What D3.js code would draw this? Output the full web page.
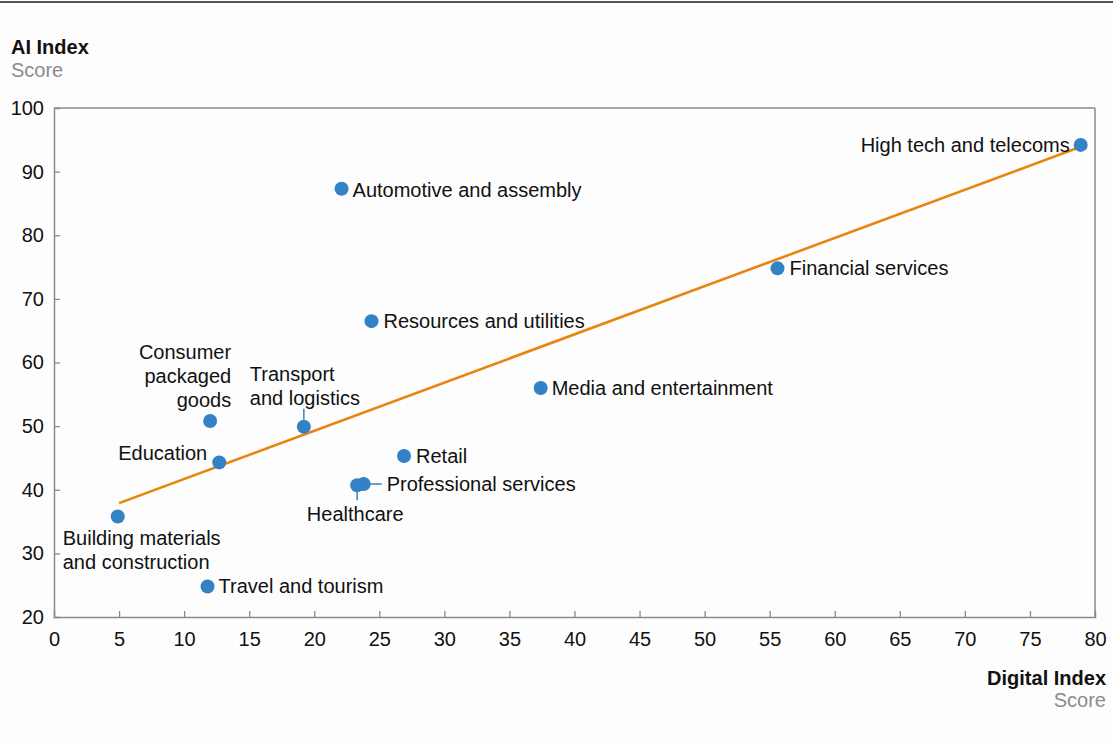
<!DOCTYPE html>
<html>
<head>
<meta charset="utf-8">
<script src="https://cdn.jsdelivr.net/npm/d3@7/dist/d3.min.js"></script>
<style>
  html, body { margin: 0; padding: 0; background: #fdfdfd; }
  svg { display: block; font-family: "Liberation Sans", Arial, Helvetica, sans-serif; }
</style>
</head>
<body>
<svg id="chart" width="1113" height="742"></svg>
<script>
// Industry scores: Digital Index (x) vs AI Index (y)
const industries = [
  "High tech and telecoms", "Automotive and assembly", "Financial services",
  "Resources and utilities", "Media and entertainment", "Consumer packaged goods",
  "Transport and logistics", "Education", "Retail", "Professional services",
  "Healthcare", "Building materials and construction", "Travel and tourism"
];
const digitalIndex = [78.9, 22.1, 55.6, 24.4, 37.4, 12.0, 19.2, 12.7, 26.9, 23.8, 23.3, 4.9, 11.8];
const aiIndex      = [94.2, 87.3, 74.8, 66.5, 56.0, 50.8, 49.9, 44.3, 45.3, 40.9, 40.7, 35.8, 24.8];

// Trend line end points
const trendX = [5, 78.9];
const trendY = [37.9, 93.9];

const xTicks = d3.range(0, 81, 5);
const yTicks = d3.range(20, 101, 10);

// Label layout per industry: line breaks, anchor and offset from the dot
const labelLines = {
  "Consumer packaged goods": ["Consumer", "packaged", "goods"],
  "Transport and logistics": ["Transport", "and logistics"],
  "Building materials and construction": ["Building materials", "and construction"]
};
const labelLayout = {
  "High tech and telecoms":   { anchor: "end",   dx: -11, dy: 0 },
  "Automotive and assembly":  { anchor: "start", dx: 11,  dy: 1 },
  "Financial services":       { anchor: "start", dx: 12,  dy: 0 },
  "Resources and utilities":  { anchor: "start", dx: 12,  dy: 0 },
  "Media and entertainment":  { anchor: "start", dx: 11,  dy: 0 },
  "Consumer packaged goods":  { anchor: "end",   dx: 21,  dy: -69 },
  "Transport and logistics":  { anchor: "start", dx: -54, dy: -53 },
  "Education":                { anchor: "end",   dx: -12, dy: -9 },
  "Retail":                   { anchor: "start", dx: 12,  dy: 0 },
  "Professional services":    { anchor: "start", dx: 23,  dy: 0 },
  "Healthcare":               { anchor: "middle",dx: -2,  dy: 29 },
  "Building materials and construction": { anchor: "start", dx: -55, dy: 22 },
  "Travel and tourism":       { anchor: "start", dx: 11,  dy: 0 }
};
// Leader lines: [x1, y1, x2, y2] offsets from the dot
const leaders = {
  "Transport and logistics": [0, -7, 0, -18],
  "Professional services":   [4, 0, 18, 0],
  "Healthcare":              [0, 4, 0, 15]
};

const svg = d3.select("#chart");
const margin = { left: 54, right: 18, top: 108, bottom: 125 };
const W = 1113, H = 742;

const x = d3.scaleLinear().domain([0, 80]).range([margin.left, W - margin.right]);
const y = d3.scaleLinear().domain([20, 100]).range([H - margin.bottom, margin.top]);

const axisColor = "#8a8a8a";
const fontSize = 20;

// Top rule of the exhibit
svg.append("rect").attr("x", 0).attr("y", 1).attr("width", W).attr("height", 2).attr("fill", "#555");

// Axis titles
svg.append("text").attr("x", 11).attr("y", 54).attr("font-size", 20).attr("font-weight", "bold").attr("fill", "#111").text("AI Index");
svg.append("text").attr("x", 11).attr("y", 77).attr("font-size", 20).attr("fill", "#8c8c8c").text("Score");
svg.append("text").attr("x", W - 7).attr("y", 685).attr("text-anchor", "end").attr("font-size", 20).attr("font-weight", "bold").attr("fill", "#111").text("Digital Index");
svg.append("text").attr("x", W - 7).attr("y", 707).attr("text-anchor", "end").attr("font-size", 20).attr("fill", "#8c8c8c").text("Score");

// Frame: top and right edges
svg.append("line").attr("x1", x(0)).attr("x2", x(80)).attr("y1", y(100)).attr("y2", y(100)).attr("stroke", axisColor).attr("stroke-width", 1.5);
svg.append("line").attr("x1", x(80)).attr("x2", x(80)).attr("y1", y(100)).attr("y2", y(20)).attr("stroke", axisColor).attr("stroke-width", 1.5);

// Bottom axis with inward ticks
const xAxis = svg.append("g").attr("transform", `translate(0,${y(20)})`)
  .call(d3.axisBottom(x).tickValues(xTicks).tickSize(-6).tickPadding(15).tickFormat(d3.format("d")));
xAxis.select(".domain").attr("stroke", axisColor).attr("stroke-width", 1.5);
xAxis.selectAll(".tick line").attr("stroke", axisColor).attr("stroke-width", 1.3);
xAxis.selectAll(".tick text").attr("font-size", fontSize).attr("fill", "#111").attr("font-family", "Liberation Sans, Arial, sans-serif");
xAxis.selectAll(".tick").filter(d => d === 0 || d === 80).select("line").remove();

// Left axis with inward ticks
const yAxis = svg.append("g").attr("transform", `translate(${x(0)},0)`)
  .call(d3.axisLeft(y).tickValues(yTicks).tickSize(-6).tickPadding(10).tickFormat(d3.format("d")));
yAxis.select(".domain").attr("stroke", axisColor).attr("stroke-width", 1.5);
yAxis.selectAll(".tick line").attr("stroke", axisColor).attr("stroke-width", 1.3);
yAxis.selectAll(".tick text").attr("font-size", fontSize).attr("fill", "#111").attr("font-family", "Liberation Sans, Arial, sans-serif");
yAxis.selectAll(".tick").filter(d => d === 20 || d === 100).select("line").remove();

const points = industries.map((name, i) => ({ name, dx: digitalIndex[i], ai: aiIndex[i] }));

// Trend line
svg.append("line")
  .attr("x1", x(trendX[0])).attr("y1", y(trendY[0]))
  .attr("x2", x(trendX[1])).attr("y2", y(trendY[1]))
  .attr("stroke", "#e8850f").attr("stroke-width", 2.6);

const dotColor = "#3482c6";

// Leader lines
points.filter(p => leaders[p.name]).forEach(p => {
  const l = leaders[p.name];
  svg.append("line")
    .attr("x1", x(p.dx) + l[0]).attr("y1", y(p.ai) + l[1])
    .attr("x2", x(p.dx) + l[2]).attr("y2", y(p.ai) + l[3])
    .attr("stroke", dotColor).attr("stroke-width", 1.5);
});

// Dots
svg.append("g").selectAll("circle").data(points).join("circle")
  .attr("cx", d => x(d.dx)).attr("cy", d => y(d.ai)).attr("r", 7)
  .attr("fill", dotColor);

// Labels
const lineHeight = 24;
svg.append("g").selectAll("text").data(points).join("text")
  .attr("font-size", fontSize).attr("fill", "#111")
  .attr("text-anchor", d => labelLayout[d.name].anchor)
  .each(function(d) {
    const lay = labelLayout[d.name];
    const lines = labelLines[d.name] || [d.name];
    const t = d3.select(this);
    lines.forEach((ln, k) => {
      t.append("tspan")
        .attr("x", x(d.dx) + lay.dx)
        .attr("y", y(d.ai) + lay.dy + k * lineHeight)
        .attr("dy", "0.35em")
        .text(ln);
    });
  });
</script>
</body>
</html>
